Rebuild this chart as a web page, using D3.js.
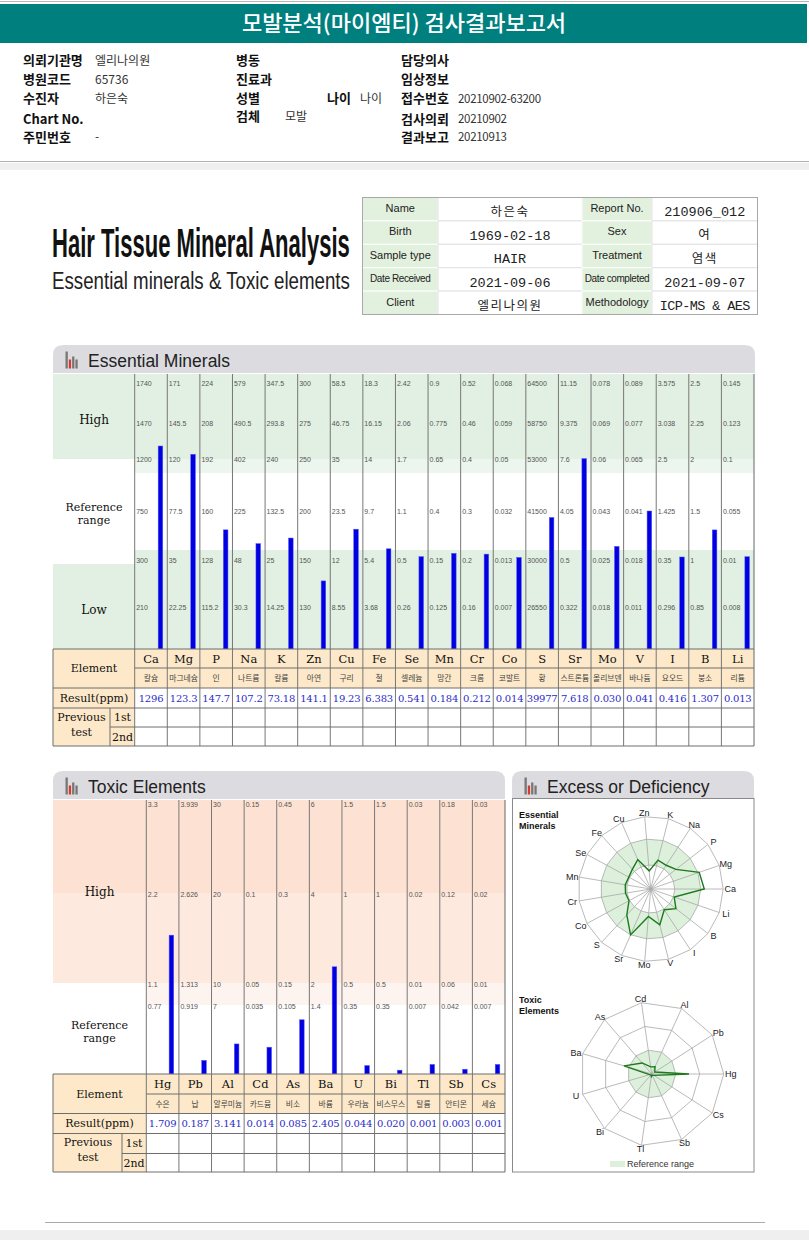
<!DOCTYPE html>
<html><head><meta charset="utf-8">
<script src="https://cdn.jsdelivr.net/npm/d3@7/dist/d3.min.js"></script>
<style>body{margin:0;background:#fff}svg{display:block}</style>
</head><body>
<svg id="c" width="809" height="1240"></svg>
<script>
// ---------- DATA ----------
const reportTitle = "모발분석(마이엠티) 검사결과보고서";
const infoCol1Labels = ["의뢰기관명","병원코드","수진자","Chart No.","주민번호"];
const infoCol1Values = ["엘리나의원","65736","하은숙","","-"];
const infoCol2Labels = ["병동","진료과","성별","검체"];
const infoCol2Values = ["","","","모발"];
const infoCol3Labels = ["담당의사","임상정보","접수번호","검사의뢰","결과보고"];
const infoCol3Values = ["","","20210902-63200","20210902","20210913"];

const sumLabelsA = ["Name","Birth","Sample type","Date Received","Client"];
const sumValuesA = ["하은숙","1969-02-18","HAIR","2021-09-06","엘리나의원"];
const sumLabelsB = ["Report No.","Sex","Treatment","Date completed","Methodology"];
const sumValuesB = ["210906_012","여","염색","2021-09-07","ICP-MS & AES"];

const essentialElements = ["Ca","Mg","P","Na","K","Zn","Cu","Fe","Se","Mn","Cr","Co","S","Sr","Mo","V","I","B","Li"];
const essentialNames = ["칼슘","마그네슘","인","나트륨","칼륨","아연","구리","철","셀레늄","망간","크롬","코발트","황","스트론튬","몰리브덴","바나듐","요오드","붕소","리튬"];
const essentialValues = [1296,123.3,147.7,107.2,73.18,141.1,19.23,6.383,0.541,0.184,0.212,0.014,39977,7.618,0.030,0.041,0.416,1.307,0.013];
const essentialTicks = [
  [1740,1470,1200,750,300,210],
  [171,145.5,120,77.5,35,22.25],
  [224,208,192,160,128,115.2],
  [579,490.5,402,225,48,30.3],
  [347.5,293.8,240,132.5,25,14.25],
  [300,275,250,200,150,130],
  [58.5,46.75,35,23.5,12,8.55],
  [18.3,16.15,14,9.7,5.4,3.68],
  [2.42,2.06,1.7,1.1,0.5,0.26],
  [0.9,0.775,0.65,0.4,0.15,0.125],
  [0.52,0.46,0.4,0.3,0.2,0.16],
  [0.068,0.059,0.05,0.032,0.013,0.007],
  [64500,58750,53000,41500,30000,26550],
  [11.15,9.375,7.6,4.05,0.5,0.322],
  [0.078,0.069,0.06,0.043,0.025,0.018],
  [0.089,0.077,0.065,0.041,0.018,0.011],
  [3.575,3.038,2.5,1.425,0.35,0.296],
  [2.5,2.25,2,1.5,1,0.85],
  [0.145,0.123,0.1,0.055,0.01,0.008]
];

const toxicElements = ["Hg","Pb","Al","Cd","As","Ba","U","Bi","Tl","Sb","Cs"];
const toxicNames = ["수은","납","알루미늄","카드뮴","비소","바륨","우라늄","비스무스","탈륨","안티몬","세슘"];
const toxicValues = [1.709,0.187,3.141,0.014,0.085,2.405,0.044,0.020,0.001,0.003,0.001];
const toxicTicks = [
  [3.3,2.2,1.1,0.77],
  [3.939,2.626,1.313,0.919],
  [30,20,10,7],
  [0.15,0.1,0.05,0.035],
  [0.45,0.3,0.15,0.105],
  [6,4,2,1.4],
  [1.5,1,0.5,0.35],
  [1.5,1,0.5,0.35],
  [0.03,0.02,0.01,0.007],
  [0.18,0.12,0.06,0.042],
  [0.03,0.02,0.01,0.007]
];

// ---------- STYLE ----------
const KR = "'Noto Sans CJK KR', sans-serif";
const SERIF = "'DejaVu Serif', serif";
const SANS = "'Liberation Sans', Arial, sans-serif";
const MONO = "'Liberation Mono', monospace";
const LINE = "#6e6e6e";
const GREEN = "#e1f0e2", PALEGREEN = "#edf6ee";
const PEACH = "#fde9c9";
const BLUE = "#0000e0", VALBLUE = "#2b2bc8";

const svg = d3.select("#c");
const fmt = v => v >= 1000 ? d3.format("d")(v) : (v < 1 ? v.toFixed(3) : v.toPrecision(4));
function txt(g, x, y, s, o) {
  o = o || {};
  const fs = o.fs || 12;
  const yy = o.db === "alphabetic" ? y : y + fs * 0.35;
  return g.append("text").attr("x", x).attr("y", yy).text(s)
    .attr("font-family", o.ff || SANS).attr("font-size", fs)
    .attr("font-weight", o.fw || "normal").attr("fill", o.fill || "#222")
    .attr("text-anchor", o.anchor || "start")
    .attr("letter-spacing", o.ls || null);
}
function txt2(x, y1, lines, fs, gap) {
  const t = svg.append("text").attr("font-family", SERIF).attr("font-size", fs).attr("fill", "#111").attr("text-anchor", "middle");
  lines.forEach((s, i) => t.append("tspan").attr("x", x).attr("y", y1 + i * gap + fs * 0.35).text(s));
}
function hline(x1, x2, y, c) { svg.append("line").attr("x1",x1).attr("x2",x2).attr("y1",y).attr("y2",y).attr("stroke",c||LINE).attr("stroke-width",1); }
function vline(x, y1, y2, c) { svg.append("line").attr("x1",x).attr("x2",x).attr("y1",y1).attr("y2",y2).attr("stroke",c||LINE).attr("stroke-width",1); }
function rect(x,y,w,h,f){ return svg.append("rect").attr("x",x).attr("y",y).attr("width",w).attr("height",h).attr("fill",f); }
function fitText(x, y, s, fs, fw, fill, width) {
  const g = svg.append("g");
  const t = g.append("text").attr("x", 0).attr("y", 0).text(s)
    .attr("font-family", SANS).attr("font-size", fs).attr("font-weight", fw).attr("fill", fill);
  const w = t.node().getComputedTextLength() || width;
  g.attr("transform", `translate(${x},${y}) scale(${width / w},1)`);
}

// ---------- TOP HEADER ----------
hline(0, 809, 1.5, "#b5b5b5");
rect(0, 4, 807, 39, "#007f7f");
txt(svg, 404, 23.5, reportTitle, {ff: KR, fs: 22, fill: "#fff", anchor: "middle", fw: 500});

const rowsY = [60.5, 79.5, 98.5, 119, 137];
infoCol1Labels.forEach((s,i)=>{ txt(svg, 23, rowsY[i], s, {ff: KR, fs: 13, fw: "bold", fill:"#111"}); txt(svg, 95, rowsY[i], infoCol1Values[i], {ff: KR, fs: 12, fill:"#333"}); });
infoCol2Labels.forEach((s,i)=>{ const y = i===3 ? 116.5 : rowsY[i]; txt(svg, 236, y, s, {ff: KR, fs: 13, fw: "bold", fill:"#111"}); txt(svg, 285, y, infoCol2Values[i], {ff: KR, fs: 12, fill:"#333"}); });
txt(svg, 327, rowsY[2], "나이", {ff: KR, fs: 13, fw: "bold", fill:"#111"});
txt(svg, 360, rowsY[2], "나이", {ff: KR, fs: 12, fill:"#333"});
infoCol3Labels.forEach((s,i)=>{ txt(svg, 401, rowsY[i], s, {ff: KR, fs: 13, fw: "bold", fill:"#111"}); txt(svg, 458, rowsY[i], infoCol3Values[i], {ff: KR, fs: 11.5, fill:"#333", ls: -0.3}); });
hline(0, 809, 161.5, "#b0b0b0");
rect(0, 163, 809, 7, "#efefef");

// ---------- TITLE ----------
fitText(52, 257, "Hair Tissue Mineral Analysis", 41, "bold", "#111", 298);
fitText(52, 289, "Essential minerals & Toxic elements", 23, "normal", "#222", 298);

// ---------- SUMMARY TABLE ----------
const sumX = [362.5, 438, 582, 652, 757.5];
const sumY = d3.range(6).map(i => 197.5 + i * 23.4);
for (let i = 0; i < 5; i++) {
  [[0, sumLabelsA, true],[1, sumValuesA, false],[2, sumLabelsB, true],[3, sumValuesB, false]].forEach(([c, arr, isLab]) => {
    rect(sumX[c], sumY[i], sumX[c+1]-sumX[c], 23.4, isLab ? "#e2f0de" : "#fff")
      .attr("stroke", isLab ? "#fff" : "#e2e2e2").attr("stroke-width", 1);
    const cx = (sumX[c] + sumX[c+1]) / 2, cy = sumY[i] + 11.7;
    const s = arr[i];
    if (isLab) {
      const small = s.length > 12;
      txt(svg, cx, cy - 1, s, {ff: SANS, fs: small ? 10 : 11, anchor: "middle", fill: "#222", ls: small ? -0.4 : null});
    } else {
      const kr = /[가-힣]/.test(s);
      txt(svg, cx, cy + 2.5, s, {ff: kr ? KR : MONO, fs: kr ? 12.5 : 13.5, anchor: "middle", fill: "#222", ls: kr ? 1.5 : (s.length > 11 ? -0.6 : null)});
    }
  });
}
svg.append("rect").attr("x",sumX[0]).attr("y",sumY[0]).attr("width",sumX[4]-sumX[0]).attr("height",sumY[5]-sumY[0])
  .attr("fill","none").attr("stroke","#a8a8a8");

// ---------- PANEL HEADER ----------
function panelHeader(x, y, w, h, title) {
  const r = 10;
  svg.append("path").attr("d", `M${x},${y+h} V${y+r} Q${x},${y} ${x+r},${y} H${x+w-r} Q${x+w},${y} ${x+w},${y+r} V${y+h} Z`).attr("fill", "#dcdce0");
  const x0 = x + 12.5, yb = y + 23.5;
  [[0,17,"#777"],[3.3,9,"#d63a2a"],[6.6,12,"#777"],[9.9,9,"#777"]].forEach(([dx,hh,c]) => rect(x0+dx, yb-hh, 2.3, hh, c));
  txt(svg, x + 35, y + 21.5, title, {ff: SANS, fs: 17.5, fill: "#222", db: "alphabetic"});
}

// ---------- ESSENTIAL CHART ----------
panelHeader(53, 345, 702, 28, "Essential Minerals");
const eTop = 374, eBase = 649, eLeft = 53, eLabR = 134.7, eRight = 754;
const xE = d3.scaleBand().domain(essentialElements).range([eLabR, eRight]);
const eRange = [649, 607, 560, 511, 459, 422.5, 383];
const yE = essentialTicks.map(t => d3.scaleLinear().domain([0, ...t.slice().reverse()]).range(eRange));
rect(eLeft, eTop, eLabR-eLeft, 459-eTop, GREEN);
rect(eLeft, 564, eLabR-eLeft, eBase-564, GREEN);
rect(eLabR, eTop, eRight-eLabR, 459-eTop, GREEN);
rect(eLabR, 459, eRight-eLabR, 14, PALEGREEN);
rect(eLabR, 550, eRight-eLabR, eBase-550, GREEN);
txt(svg, 94, 420, "High", {ff: SERIF, fs: 12, anchor: "middle", fill: "#111"});
txt2(94, 507, ["Reference", "range"], 11, 13);
txt(svg, 94, 610, "Low", {ff: SERIF, fs: 12, anchor: "middle", fill: "#111"});
essentialElements.forEach((el, i) => {
  essentialTicks[i].forEach(t => txt(svg, xE(el) + 1.5, yE[i](t) + 1, String(t), {ff: SANS, fs: 7, fill: "#555"}));
});
svg.append("g").selectAll("rect").data(essentialElements).join("rect")
  .attr("x", d => xE(d) + xE.bandwidth()*0.72).attr("width", 4.6)
  .attr("y", (d,i) => yE[i](essentialValues[i])).attr("height", (d,i) => eBase - yE[i](essentialValues[i]))
  .attr("fill", BLUE).attr("stroke", "#5555ff").attr("stroke-width", 0.5);
const tR = [649, 668, 688, 708, 727, 746];
rect(eLeft, tR[0], eRight-eLeft, tR[2]-tR[0], PEACH);
rect(eLeft, tR[2], eLabR-eLeft, tR[5]-tR[2], PEACH);
essentialElements.forEach((el, i) => {
  const cx = xE(el) + xE.bandwidth()/2;
  txt(svg, cx, 658.5, el, {ff: SERIF, fs: 11.5, anchor: "middle", fill: "#111"});
  txt(svg, cx, 678, essentialNames[i], {ff: KR, fs: 7.8, anchor: "middle", fill: "#444"});
  txt(svg, cx, 698, fmt(essentialValues[i]), {ff: SERIF, fs: 10, anchor: "middle", fill: VALBLUE, ls: -0.2});
});
txt(svg, 94, 668.5, "Element", {ff: SERIF, fs: 11, anchor: "middle", fill: "#111"});
txt(svg, 94, 698, "Result(ppm)", {ff: SERIF, fs: 11, anchor: "middle", fill: "#111"});
txt2(81.5, 717, ["Previous", "test"], 11, 15);
txt(svg, 122.5, 717.5, "1st", {ff: SERIF, fs: 11, anchor: "middle", fill: "#111"});
txt(svg, 122.5, 737, "2nd", {ff: SERIF, fs: 11, anchor: "middle", fill: "#111"});
essentialElements.forEach(el => vline(xE(el), eTop, tR[5], "#777"));
vline(eRight, eTop, tR[5], "#666");
vline(eLeft, tR[0], tR[5]);
vline(110, tR[3], tR[5]);
hline(eLeft, eRight, tR[0]); hline(eLabR, eRight, tR[1]); hline(eLeft, eRight, tR[2]);
hline(eLeft, eRight, tR[3]); hline(110, eRight, tR[4]); hline(eLeft, eRight, tR[5]);

// ---------- TOXIC CHART ----------
panelHeader(53, 771, 452, 28, "Toxic Elements");
const tTop = 800, tBase = 1074, tLabR = 146.3, tRight = 505;
const xT = d3.scaleBand().domain(toxicElements).range([tLabR, tRight]);
const tRange = [1074, 1007, 985, 895, 805];
const yT = toxicTicks.map(t => d3.scaleLinear().domain([0, ...t.slice().reverse()]).range(tRange));
rect(eLeft, tTop, tRight-eLeft, 93, "#fde2d3");
rect(eLeft, 893, tRight-eLeft, 90, "#fde9de");
rect(tLabR, 983, tRight-tLabR, 22, "#fef4ef");
txt(svg, 99.5, 892, "High", {ff: SERIF, fs: 12, anchor: "middle", fill: "#111"});
txt2(99.5, 1025.5, ["Reference", "range"], 11, 13);
toxicElements.forEach((el, i) => {
  toxicTicks[i].forEach(t => txt(svg, xT(el) + 1.5, yT[i](t), String(t), {ff: SANS, fs: 7, fill: "#555"}));
});
svg.append("g").selectAll("rect").data(toxicElements).join("rect")
  .attr("x", d => xT(d) + xT.bandwidth()*0.70).attr("width", 4.6)
  .attr("y", (d,i) => yT[i](toxicValues[i])).attr("height", (d,i) => tBase - yT[i](toxicValues[i]))
  .attr("fill", BLUE).attr("stroke", "#5555ff").attr("stroke-width", 0.5);
const uR = [1074, 1094, 1113.5, 1133.5, 1153.5, 1172];
rect(eLeft, uR[0], tRight-eLeft, uR[2]-uR[0], PEACH);
rect(eLeft, uR[2], tLabR-eLeft, uR[5]-uR[2], PEACH);
toxicElements.forEach((el, i) => {
  const cx = xT(el) + xT.bandwidth()/2;
  txt(svg, cx, 1084, el, {ff: SERIF, fs: 11.5, anchor: "middle", fill: "#111"});
  txt(svg, cx, 1104, toxicNames[i], {ff: KR, fs: 7.8, anchor: "middle", fill: "#444"});
  txt(svg, cx, 1123.5, fmt(toxicValues[i]), {ff: SERIF, fs: 10, anchor: "middle", fill: VALBLUE, ls: -0.2});
});
txt(svg, 99.5, 1094, "Element", {ff: SERIF, fs: 11, anchor: "middle", fill: "#111"});
txt(svg, 99.5, 1123.5, "Result(ppm)", {ff: SERIF, fs: 11, anchor: "middle", fill: "#111"});
txt2(88, 1142.5, ["Previous", "test"], 11, 14.5);
txt(svg, 134, 1143.5, "1st", {ff: SERIF, fs: 11, anchor: "middle", fill: "#111"});
txt(svg, 134, 1163, "2nd", {ff: SERIF, fs: 11, anchor: "middle", fill: "#111"});
toxicElements.forEach(el => vline(xT(el), tTop, uR[5], "#777"));
vline(tRight, tTop, uR[5], "#666");
vline(eLeft, uR[0], uR[5]);
vline(122, uR[3], uR[5]);
hline(eLeft, tRight, uR[0]); hline(tLabR, tRight, uR[1]); hline(eLeft, tRight, uR[2]);
hline(eLeft, tRight, uR[3]); hline(122, tRight, uR[4]); hline(eLeft, tRight, uR[5]);

// ---------- RADAR PANEL ----------
panelHeader(512, 771, 242, 28, "Excess or Deficiency");
svg.append("rect").attr("x",512.5).attr("y",798.5).attr("width",241.5).attr("height",373.5).attr("fill","none").attr("stroke","#8a8a8a");

function radar(cx, cy, elements, values, ticks, rRange, rings, shade, outerR) {
  const n = elements.length;
  const ang = i => Math.PI/2 - i * 2 * Math.PI / n;
  const g = svg.append("g").attr("transform", `translate(${cx},${cy})`);
  const ring = r => d3.lineRadial().angle(i => ang(i)).radius(r).curve(d3.curveLinearClosed)(d3.range(n));
  g.append("path").attr("d", ring(shade[1]) + (shade[0] > 0 ? ring(shade[0]) : ""))
    .attr("fill", "#dcf0dc").attr("fill-rule", "evenodd");
  rings.forEach(r => g.append("path").attr("d", ring(r)).attr("fill", "none").attr("stroke", "#a8a8a8").attr("stroke-width", 0.8));
  d3.range(n).forEach(i => {
    const a = ang(i);
    g.append("line").attr("x1",0).attr("y1",0).attr("x2", outerR*Math.sin(a)).attr("y2", -outerR*Math.cos(a))
      .attr("stroke","#a8a8a8").attr("stroke-width",0.8);
    const lx = (outerR + 7) * Math.sin(a), ly = -(outerR + 4) * Math.cos(a);
    txt(g, lx, ly, elements[i], {ff: SANS, fs: 9, anchor: "middle", fill: "#222"});
  });
  const rScales = ticks.map(t => d3.scaleLinear().domain([0, ...t.slice().reverse()]).range(rRange));
  g.append("path").attr("d", d3.lineRadial().angle(i => ang(i)).radius(i => rScales[i](values[i])).curve(d3.curveLinearClosed)(d3.range(n)))
    .attr("fill", "none").attr("stroke", "#1d7a1d").attr("stroke-width", 1.4);
}
radar(650.7, 889, essentialElements, essentialValues, essentialTicks, [0, 11, 24, 37, 50, 60, 70], [24, 50, 72.5], [24, 50], 72.5);
radar(651.7, 1074, toxicElements, toxicValues, toxicTicks, [0, 18, 24, 48, 72], [24, 48, 72], [0, 24], 72);
const rl1 = svg.append("text").attr("font-family", SANS).attr("font-size", 9).attr("font-weight", "bold").attr("fill", "#111");
["Essential", "Minerals"].forEach((s, i) => rl1.append("tspan").attr("x", 519).attr("y", 818 + i * 10.5).text(s));
const rl2 = svg.append("text").attr("font-family", SANS).attr("font-size", 9).attr("font-weight", "bold").attr("fill", "#111");
["Toxic", "Elements"].forEach((s, i) => rl2.append("tspan").attr("x", 519).attr("y", 1003 + i * 10.5).text(s));
rect(610, 1161, 15, 6, "#dcf0dc");
txt(svg, 627, 1164, "Reference range", {ff: SANS, fs: 9, fill: "#333"});

// ---------- FOOTER ----------
hline(45, 765, 1222.5, "#aaa");
rect(0, 1230, 809, 10, "#efefef");
</script>
</body></html>
